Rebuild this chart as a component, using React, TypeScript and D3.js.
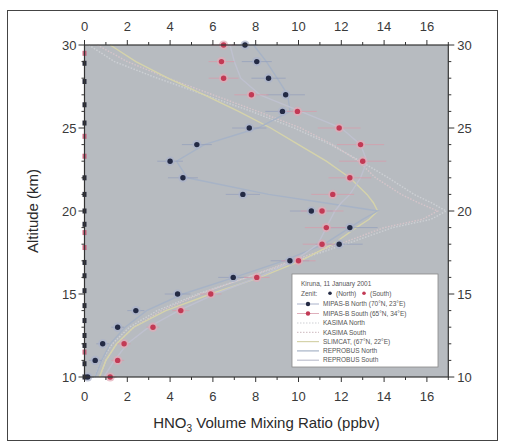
import React from "react";
import * as d3 from "d3";

const altitudes = [30, 29, 28, 27, 26, 25, 24, 23, 22, 21, 20, 19, 18, 17, 16, 15, 14, 13, 12, 11, 10];
const northVmr = [7.5, 8.05, 8.6, 9.4, 9.25, 7.7, 5.25, 4.0, 4.6, 7.4, 10.6, 12.4, 11.9, 9.6, 6.95, 4.35, 2.4, 1.55, 0.85, 0.5, 0.15];
const northErr = [0.6, 0.7, 0.8, 0.9, 0.8, 0.8, 0.7, 0.6, 0.7, 0.8, 1.0, 1.3, 1.1, 0.9, 0.7, 0.6, 0.4, 0.3, 0.3, 0.3, 0.3];
const southVmr = [6.5, 6.4, 6.5, 7.8, 9.95, 11.9, 12.9, 13.0, 12.4, 11.6, 11.1, 11.3, 11.1, 10.0, 8.05, 5.9, 4.5, 3.2, 1.85, 1.55, 1.2];
const southErr = [0.6, 0.6, 0.7, 0.8, 0.9, 1.0, 1.1, 1.1, 1.0, 1.0, 1.0, 1.0, 0.9, 0.8, 0.6, 0.5, 0.4, 0.3, 0.3, 0.3, 0.3];

const modelAlt = [30, 29, 28, 27, 26, 25, 24, 23, 22, 21, 20.5, 20, 19.5, 19, 18, 17, 16, 15, 14, 13, 12, 11, 10];
const kasimaNorth = [0.2, 1.4, 3.4, 5.6, 7.8, 9.8, 11.5, 12.9, 14.2, 15.4, 16.2, 16.9, 16.2, 14.4, 12.2, 9.9, 7.6, 5.3, 3.4, 2.1, 1.3, 0.8, 0.5];
const kasimaSouth = [0.6, 2.0, 3.9, 6.0, 8.1, 10.1, 11.6, 12.8, 13.6, 14.8, 15.6, 16.5, 15.8, 14.0, 11.9, 9.7, 7.6, 5.4, 3.6, 2.3, 1.5, 1.0, 0.7];
const slimcat = [1.2, 2.4, 3.9, 5.6, 7.2, 8.7, 10.0, 11.3, 12.4, 13.2, 13.5, 13.7, 13.3, 12.7, 11.6, 10.1, 8.2, 5.9, 3.8, 2.3, 1.5, 1.0, 0.7];
const reprobusNorth = [7.9, 8.5, 9.0, 9.5, 9.6, 8.1, 5.6, 4.3, 4.8, 8.6, 11.2, 13.7, 13.0, 12.4, 11.2, 9.3, 7.0, 4.6, 2.9, 1.9, 1.2, 0.8, 0.5];
const reprobusSouth = [6.8, 7.0, 7.3, 8.2, 10.1, 12.0, 12.9, 13.2, 12.9, 12.4, 12.0, 11.7, 11.5, 11.3, 10.9, 9.8, 8.1, 6.1, 4.4, 3.0, 2.0, 1.4, 0.9];

const zenithNorth = [28.9, 27.8, 26.4, 25.3, 22.0, 21.0, 20.0, 19.2, 16.9, 16.1, 15.2, 14.3, 13.4, 12.5, 11.9, 10.8, 10.0];
const zenithSouth = [29.5, 24.5, 23.3, 18.7, 17.8, 11.5];

const xTicks = [0, 2, 4, 6, 8, 10, 12, 14, 16];
const yTicks = [10, 15, 20, 25, 30];

const legendTitle = "Kiruna, 11 January 2001";
const legendModels = [
  { name: "KASIMA North", color: "#cdd0d4", dash: "1.5,1.5" },
  { name: "KASIMA South", color: "#d6c5ca", dash: "1.5,1.5" },
  { name: "SLIMCAT, (67°N, 22°E)", color: "#d5d3aa", dash: "" },
  { name: "REPROBUS North", color: "#a7b3c6", dash: "" },
  { name: "REPROBUS South", color: "#bfc1cf", dash: "" },
];

export default function App() {
  const W = 509, H = 443;
  const x = d3.scaleLinear().domain([0, 17]).range([84.5, 448.3]);
  const y = d3.scaleLinear().domain([10, 30]).range([377, 45]);
  const line = (vals: number[]) =>
    d3.line<number>().x((d) => x(d)).y((_, i) => y(modelAlt[i])).curve(d3.curveLinear)(vals) || "";

  const models = [kasimaNorth, kasimaSouth, slimcat, reprobusNorth, reprobusSouth];
  const font = "'Liberation Sans', Arial, sans-serif";
  const minorX = d3.range(0, 18, 1);
  const minorY = d3.range(10, 31, 1);

  const lx = 292, ly = 274;
  return (
    <svg width={W} height={H} style={{ position: "absolute", left: 0, top: 0 }} fontFamily={font}>
      <rect x={0} y={0} width={W} height={H} fill="#ffffff" />
      <rect x={7.5} y={10.5} width={490} height={430} fill="#ffffff" stroke="#444" strokeWidth={1} />
      <rect x={x(0)} y={y(30)} width={x(17) - x(0)} height={y(10) - y(30)} fill="#b7bbc0" />
      {models.map((m, i) => (
        <path key={i} d={line(m)} fill="none" stroke={legendModels[i].color} strokeWidth={1.4}
          strokeDasharray={legendModels[i].dash} />
      ))}
      {altitudes.map((a, i) => (
        <g key={"e" + i}>
          <line x1={x(Math.max(0, northVmr[i] - northErr[i]))} x2={x(northVmr[i] + northErr[i])} y1={y(a)} y2={y(a)}
            stroke="#96a0bd" strokeWidth={1} opacity={0.75} />
          <line x1={x(Math.max(0, southVmr[i] - southErr[i]))} x2={x(southVmr[i] + southErr[i])} y1={y(a)} y2={y(a)}
            stroke="#d79cab" strokeWidth={1} opacity={0.75} />
        </g>
      ))}
      {altitudes.map((a, i) => (
        <g key={"p" + i}>
          <circle cx={x(southVmr[i])} cy={y(a)} r={4.6} fill="#e2aab7" opacity={0.7} />
          <circle cx={x(southVmr[i])} cy={y(a)} r={2.7} fill="#c23a55" />
          <circle cx={x(northVmr[i])} cy={y(a)} r={4.6} fill="#aab2cc" opacity={0.7} />
          <circle cx={x(northVmr[i])} cy={y(a)} r={2.7} fill="#232a44" />
        </g>
      ))}
      {zenithNorth.map((z, i) => (
        <rect key={"zn" + i} x={x(0) - 2} y={y(z) - 2.5} width={4} height={5} fill="#2a2d3a" />
      ))}
      {zenithSouth.map((z, i) => (
        <rect key={"zs" + i} x={x(0) - 2} y={y(z) - 2.5} width={4} height={5} fill="#c64a66" opacity={0.8} />
      ))}
      <rect x={x(0)} y={y(30)} width={x(17) - x(0)} height={y(10) - y(30)} fill="none" stroke="#333" strokeWidth={1.2} />
      {minorX.map((v) => (
        <g key={"mx" + v}>
          <line x1={x(v)} x2={x(v)} y1={y(10)} y2={y(10) + (v % 2 === 0 ? 5 : 3)} stroke="#333" />
          <line x1={x(v)} x2={x(v)} y1={y(30)} y2={y(30) - (v % 2 === 0 ? 5 : 3)} stroke="#333" />
        </g>
      ))}
      {minorY.map((v) => (
        <g key={"my" + v}>
          <line x1={x(0)} x2={x(0) - (v % 5 === 0 ? 6 : 3)} y1={y(v)} y2={y(v)} stroke="#333" />
          <line x1={x(17)} x2={x(17) + (v % 5 === 0 ? 6 : 3)} y1={y(v)} y2={y(v)} stroke="#333" />
        </g>
      ))}
      {xTicks.map((v) => (
        <g key={"xt" + v} fontSize={13} fill="#3a3a3a" textAnchor="middle">
          <text x={x(v)} y={401}>{v}</text>
          <text x={x(v)} y={31}>{v}</text>
        </g>
      ))}
      {yTicks.map((v) => (
        <g key={"yt" + v} fontSize={13} fill="#3a3a3a">
          <text x={x(0) - 8} y={y(v) + 4.5} textAnchor="end">{v}</text>
          <text x={x(17) + 9} y={y(v) + 4.5} textAnchor="start">{v}</text>
        </g>
      ))}
      <text x={(x(0) + x(17)) / 2} y={428} textAnchor="middle" fontSize={15} fill="#2a2a2a">
        HNO<tspan fontSize={10} dy={4}>3</tspan><tspan dy={-4}> Volume Mixing Ratio (ppbv)</tspan>
      </text>
      <text transform={`translate(38,${(y(10) + y(30)) / 2}) rotate(-90)`} textAnchor="middle" fontSize={15} fill="#2a2a2a">
        Altitude (km)
      </text>
      <rect x={lx} y={ly} width={146} height={93} fill="#ffffff" stroke="#888" strokeWidth={0.8} />
      <g fontSize={6.5} fill="#555">
        <text x={lx + 9} y={ly + 12}>{legendTitle}</text>
        <text x={lx + 9} y={ly + 21.5}>Zenit:</text>
        <circle cx={lx + 38} cy={ly + 19.3} r={1.8} fill="#232a44" />
        <text x={lx + 44} y={ly + 21.5}>(North)</text>
        <circle cx={lx + 72} cy={ly + 19.3} r={1.8} fill="#c23a55" />
        <text x={lx + 78} y={ly + 21.5}>(South)</text>
        <line x1={lx + 5} x2={lx + 27} y1={ly + 30} y2={ly + 30} stroke="#96a0bd" strokeWidth={0.8} />
        <circle cx={lx + 16} cy={ly + 30} r={2.2} fill="#232a44" />
        <text x={lx + 31} y={ly + 32.2}>MIPAS-B North (70°N, 23°E)</text>
        <line x1={lx + 5} x2={lx + 27} y1={ly + 39.5} y2={ly + 39.5} stroke="#d79cab" strokeWidth={0.8} />
        <circle cx={lx + 16} cy={ly + 39.5} r={2.2} fill="#c23a55" />
        <text x={lx + 31} y={ly + 41.7}>MIPAS-B South (65°N, 34°E)</text>
        {legendModels.map((m, i) => (
          <g key={"lg" + i}>
            <line x1={lx + 5} x2={lx + 27} y1={ly + 49 + i * 9.3} y2={ly + 49 + i * 9.3} stroke={m.color}
              strokeWidth={1.2} strokeDasharray={m.dash} />
            <text x={lx + 31} y={ly + 51.2 + i * 9.3}>{m.name}</text>
          </g>
        ))}
      </g>
    </svg>
  );
}
